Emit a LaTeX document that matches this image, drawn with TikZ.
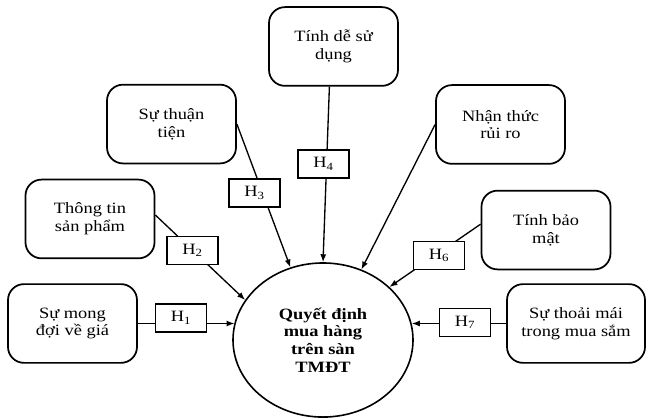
\documentclass[tikz,border=0pt]{standalone}
\usepackage{fontspec}
\setmainfont{Liberation Serif}
\usetikzlibrary{arrows.meta}
\begin{document}
\begin{tikzpicture}[x=0.75pt,y=-0.75pt,yscale=0.856,
  every node/.style={transform shape},
  factor/.style={draw, line width=1.3pt, rounded corners=12pt, minimum width=96.75pt, minimum height=69pt, align=center, inner sep=0pt, font=\fontsize{13.8}{15.5}\selectfont},
  hbox/.style={draw, fill=white, line width=1pt, minimum width=38.25pt, minimum height=24.5pt, inner sep=0pt, font=\fontsize{13.8}{15.5}\selectfont},
  goal/.style={circle, draw, line width=1.2pt, minimum size=135pt, inner sep=0pt, align=center, font=\bfseries\fontsize{13.8}{15.5}\selectfont},
  link/.style={line width=1pt},
  arr/.style={link, -{Latex[length=6pt,width=4.5pt]}}]
\useasboundingbox (0,0) rectangle (648,489.5);
% factor boxes
\node[factor] (tinh)   at (333.5,54.3)  {Tính dễ sử\\dụng};
\node[factor] (thuan)  at (171.5,144.9) {Sự thuận\\tiện};
\node[factor] (nhan)   at (500.5,145.4) {Nhận thức\\rủi ro};
\node[factor] (thong)  at (90,255.8)    {Thông tin\\sản phẩm};
\node[factor] (baomat) at (546,268.7)   {Tính bảo\\mật};
\node[factor] (mong)   at (72.5,377.9)  {Sự mong\\đợi về giá};
\node[factor, minimum width=103.5pt] (thoai) at (576,377.9) {Sự thoải mái\\trong mua sắm};
% goal
\node[goal] (ell) at (323,397.2) {Quyết định\\mua hàng\\trên sàn\\TMĐT};
% connectors
\draw[arr] (mong.east) -- (ell.167.6 |- mong.east);
\draw[arr] (thong.4) -- (ell.149.7);
\draw[arr] (thuan.east) -- (ell.111.4);
\draw[arr] (tinh.-95.6) -- (ell.north);
\draw[arr] (nhan.west) -- (ell.65.1);
\draw[arr] (baomat.174.8) -- (ell.43.6);
\draw[arr] (thoai.west) -- (ell.12.4 |- thoai.west);
% hypothesis labels
\node[hbox] (h1) at (181,371.5)   {H\textsubscript{1}};
\node[hbox] (h2) at (192.5,292.6) {H\textsubscript{2}};
\node[hbox] (h3) at (254.5,225.5) {H\textsubscript{3}};
\node[hbox] (h4) at (323.5,191.6) {H\textsubscript{4}};
\node[hbox] (h6) at (439,298.5)   {H\textsubscript{6}};
\node[hbox] (h7) at (465,376.8)   {H\textsubscript{7}};
\end{tikzpicture}
\end{document}
